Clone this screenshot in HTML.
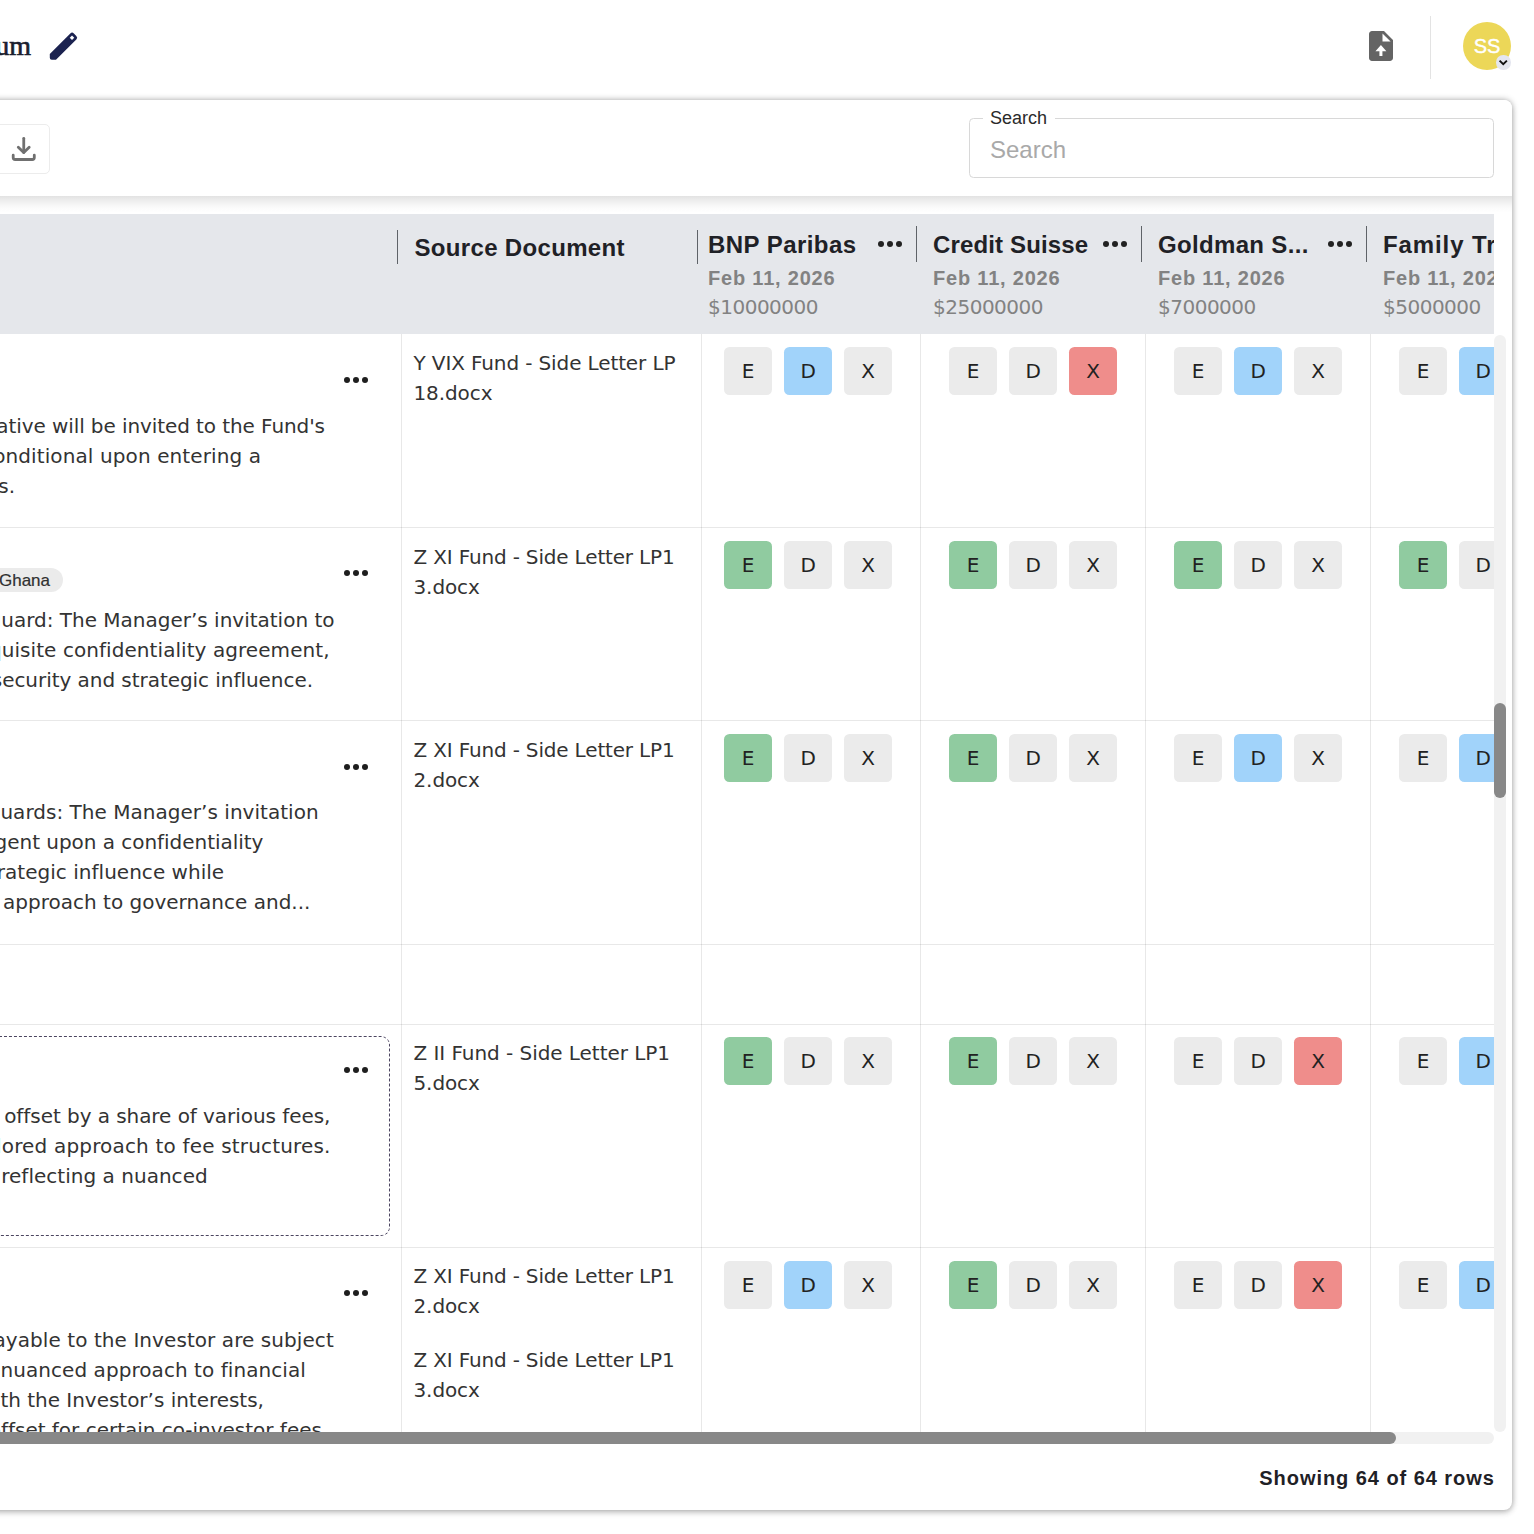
<!DOCTYPE html><html lang="en"><head><meta charset="utf-8"><title>Side Letter Compendium</title><style>
*{box-sizing:border-box;margin:0;padding:0}
html,body{width:1534px;height:1534px;overflow:hidden;background:#fff}
body{position:relative;font-family:"DejaVu Sans", "Liberation Sans", sans-serif;color:#2e2e2e;font-size:20px}
.abs{position:absolute}
.t{position:absolute;white-space:nowrap;line-height:30px;height:30px;letter-spacing:0;color:#333}
.lib{font-family:"Liberation Sans", "DejaVu Sans", sans-serif}
.serif{font-family:"Liberation Serif", "DejaVu Serif", serif}
.r{text-align:right}
#card{position:absolute;left:-40px;top:99.5px;width:1552px;height:1410px;background:#fff;border-radius:8px;box-shadow:0 0 6px rgba(0,0,0,.34),0 3px 6px rgba(0,0,0,.12)}
#toolbar{position:absolute;left:-40px;top:99.5px;width:1552px;height:96.5px;background:#fff;border-radius:8px 8px 0 0}
#tbshadow{position:absolute;left:-40px;top:196px;width:1552px;height:18px;background:linear-gradient(to bottom,rgba(0,0,0,.115),rgba(0,0,0,.075) 4px,rgba(0,0,0,.035) 9px,rgba(0,0,0,.012) 13px,rgba(0,0,0,0) 17px)}
#thead{position:absolute;left:0;top:214px;width:1494px;height:119.5px;background:#e5e7eb;overflow:hidden}
.sep{position:absolute;top:11.6px;width:1.3px;height:36px;background:#5f6368}
.h1{font-family:"Liberation Sans", "DejaVu Sans", sans-serif;position:absolute;white-space:nowrap;font-weight:700;font-size:24px;line-height:30px;color:#1f2126;letter-spacing:.45px}
.h2{font-family:"Liberation Sans", "DejaVu Sans", sans-serif;position:absolute;white-space:nowrap;font-weight:700;font-size:20px;line-height:30px;color:#828282;letter-spacing:.8px}
.h3{position:absolute;white-space:nowrap;font-weight:400;font-size:20px;line-height:30px;color:#828282;letter-spacing:-.5px}
#tbody{position:absolute;left:0;top:333.5px;width:1494px;height:1098.5px;overflow:hidden;background:#fff}
.hl{position:absolute;left:0;width:1494px;height:1px;background:rgba(0,0,0,.09)}
.vl{position:absolute;top:0;width:1px;height:1100px;background:rgba(0,0,0,.09)}
.b{position:absolute;width:48px;height:48px;border-radius:5.5px;background:#ebebeb;text-align:center;line-height:49.2px;font-size:20px;color:#222}
.dots{position:absolute;width:36px;height:36px}
</style></head><body>
<div class="abs serif" style="right:1503px;top:26px;white-space:nowrap;font-weight:400;font-size:28px;line-height:40px;color:#1b1e2e;-webkit-text-stroke:.65px #1b1e2e">Side Letter Compendium</div>
<svg class="abs" style="left:40px;top:20px;width:50px;height:50px" viewBox="40 20 50 50"><path fill="#1b2250" d="M49.8 57.8V54L70.32 33.48Q72.09 31.71 73.86 33.48L76.32 35.94Q78.09 37.71 76.32 39.48L56 59.8H51.8Q49.8 59.8 49.8 57.8Z"/><rect x="70.4" y="36.1" width="3.2" height="3.2" fill="#fff" transform="rotate(45 72 37.7)"/></svg>
<svg class="abs" style="left:1362.5px;top:28px;width:36px;height:36px" viewBox="0 0 24 24"><path fill="#646464" d="M14 2H6c-1.1 0-1.99.9-1.99 2L4 20c0 1.1.89 2 1.99 2H18c1.1 0 2-.9 2-2V8l-6-6z"/><path fill="#fff" d="M13 3.6V9H18.4z"/><path fill="#fff" d="M11.95 11.3L8.3 15.5H10.95V18.7H12.95V15.5H15.6z"/></svg>
<div class="abs" style="left:1430px;top:16px;width:1px;height:63px;background:#e3e3e3"></div>
<div class="abs lib" style="left:1463px;top:22px;width:48px;height:48px;border-radius:50%;background:#ecd758;color:#fff;text-align:center;line-height:48px;font-size:20px;letter-spacing:0;-webkit-text-stroke:.4px #fff">SS</div>
<div class="abs" style="left:1496px;top:55px;width:14.5px;height:14.5px;border-radius:50%;background:#e4e6ef"></div>
<svg class="abs" style="left:1496px;top:55px;width:14.5px;height:14.5px" viewBox="0 0 14.5 14.5"><path d="M3.6 5.6 L7.25 9.2 L10.9 5.6" fill="none" stroke="#111" stroke-width="1.9"/></svg>
<div id="card"></div>
<div id="toolbar"></div>
<div id="tbshadow"></div>
<div class="abs" style="left:-60px;top:123.5px;width:110px;height:50px;border:1px solid #ececec;border-radius:5px;background:#fff"></div>
<svg class="abs" style="left:0;top:120px;width:60px;height:60px" viewBox="0 120 60 60" fill="none" stroke="#707070" stroke-width="2.8" stroke-linecap="round" stroke-linejoin="round"><path d="M23.75 138.3V152.6"/><path d="M18.3 147.2L23.75 152.6L29.2 147.2"/><path d="M13.2 155.2V157.5a2 2 0 0 0 2 2H32.3a2 2 0 0 0 2-2V155.2"/></svg>
<div class="abs" style="left:969px;top:118px;width:525px;height:60px;border:1px solid #d8d8d8;border-radius:4.5px"></div>
<div class="abs" style="left:983px;top:105px;width:72px;height:24px;background:#fff"></div>
<div class="abs lib" style="left:990px;top:106px;font-size:18px;line-height:24px;color:#2a2a2a;letter-spacing:0;white-space:nowrap">Search</div>
<div class="abs lib" style="left:990px;top:132.8px;font-size:24px;line-height:34px;color:#a9a9a9;letter-spacing:0;white-space:nowrap">Search</div>
<div id="thead">
<div class="sep" style="left:396.75px;top:15.8px;height:34px"></div>
<div class="sep" style="left:696.55px;top:15.8px;height:34px"></div>
<div class="sep" style="left:915.85px"></div>
<div class="sep" style="left:1140.85px"></div>
<div class="sep" style="left:1365.85px"></div>
<div class="h1" style="left:414.5px;top:19px;letter-spacing:.33px">Source Document</div>
<div class="h1" style="left:708px;top:15.5px;letter-spacing:0.45px">BNP Paribas</div>
<div class="h2" style="left:708px;top:48.6px">Feb 11, 2026</div>
<div class="h3" style="left:708px;top:77.8px">$10000000</div>
<svg class="dots" style="left:871.9px;top:11.8px" viewBox="0 0 24 24"><circle cx="6" cy="12" r="2" fill="#222"/><circle cx="12" cy="12" r="2" fill="#222"/><circle cx="18" cy="12" r="2" fill="#222"/></svg>
<div class="h1" style="left:933px;top:15.5px;letter-spacing:0.14px">Credit Suisse</div>
<div class="h2" style="left:933px;top:48.6px">Feb 11, 2026</div>
<div class="h3" style="left:933px;top:77.8px">$25000000</div>
<svg class="dots" style="left:1096.9px;top:11.8px" viewBox="0 0 24 24"><circle cx="6" cy="12" r="2" fill="#222"/><circle cx="12" cy="12" r="2" fill="#222"/><circle cx="18" cy="12" r="2" fill="#222"/></svg>
<div class="h1" style="left:1158px;top:15.5px;letter-spacing:0.33px">Goldman S...</div>
<div class="h2" style="left:1158px;top:48.6px">Feb 11, 2026</div>
<div class="h3" style="left:1158px;top:77.8px">$7000000</div>
<svg class="dots" style="left:1321.9px;top:11.8px" viewBox="0 0 24 24"><circle cx="6" cy="12" r="2" fill="#222"/><circle cx="12" cy="12" r="2" fill="#222"/><circle cx="18" cy="12" r="2" fill="#222"/></svg>
<div class="h1" style="left:1383px;top:15.5px;letter-spacing:0.9px">Family Trust</div>
<div class="h2" style="left:1383px;top:48.6px">Feb 11, 2026</div>
<div class="h3" style="left:1383px;top:77.8px">$5000000</div>
</div>
<div id="tbody">
<div class="hl" style="top:193.5px"></div>
<div class="hl" style="top:386.5px"></div>
<div class="hl" style="top:610.5px"></div>
<div class="hl" style="top:690.5px"></div>
<div class="hl" style="top:913.5px"></div>
<div class="vl" style="left:401px"></div>
<div class="vl" style="left:701px"></div>
<div class="vl" style="left:920px"></div>
<div class="vl" style="left:1145px"></div>
<div class="vl" style="left:1370px"></div>
<div class="b" style="left:724.1px;top:13.6px;background:#ebebeb">E</div>
<div class="b" style="left:784.1px;top:13.6px;background:#a1d3fa">D</div>
<div class="b" style="left:844.1px;top:13.6px;background:#ebebeb">X</div>
<div class="b" style="left:949.1px;top:13.6px;background:#ebebeb">E</div>
<div class="b" style="left:1009.1px;top:13.6px;background:#ebebeb">D</div>
<div class="b" style="left:1069.1px;top:13.6px;background:#ef8d8b">X</div>
<div class="b" style="left:1174.1px;top:13.6px;background:#ebebeb">E</div>
<div class="b" style="left:1234.1px;top:13.6px;background:#a1d3fa">D</div>
<div class="b" style="left:1294.1px;top:13.6px;background:#ebebeb">X</div>
<div class="b" style="left:1399.1px;top:13.6px;background:#ebebeb">E</div>
<div class="b" style="left:1459.1px;top:13.6px;background:#a1d3fa">D</div>
<div class="b" style="left:1519.1px;top:13.6px;background:#ebebeb">X</div>
<div class="b" style="left:724.1px;top:207.6px;background:#90cba0">E</div>
<div class="b" style="left:784.1px;top:207.6px;background:#ebebeb">D</div>
<div class="b" style="left:844.1px;top:207.6px;background:#ebebeb">X</div>
<div class="b" style="left:949.1px;top:207.6px;background:#90cba0">E</div>
<div class="b" style="left:1009.1px;top:207.6px;background:#ebebeb">D</div>
<div class="b" style="left:1069.1px;top:207.6px;background:#ebebeb">X</div>
<div class="b" style="left:1174.1px;top:207.6px;background:#90cba0">E</div>
<div class="b" style="left:1234.1px;top:207.6px;background:#ebebeb">D</div>
<div class="b" style="left:1294.1px;top:207.6px;background:#ebebeb">X</div>
<div class="b" style="left:1399.1px;top:207.6px;background:#90cba0">E</div>
<div class="b" style="left:1459.1px;top:207.6px;background:#ebebeb">D</div>
<div class="b" style="left:1519.1px;top:207.6px;background:#ebebeb">X</div>
<div class="b" style="left:724.1px;top:400.6px;background:#90cba0">E</div>
<div class="b" style="left:784.1px;top:400.6px;background:#ebebeb">D</div>
<div class="b" style="left:844.1px;top:400.6px;background:#ebebeb">X</div>
<div class="b" style="left:949.1px;top:400.6px;background:#90cba0">E</div>
<div class="b" style="left:1009.1px;top:400.6px;background:#ebebeb">D</div>
<div class="b" style="left:1069.1px;top:400.6px;background:#ebebeb">X</div>
<div class="b" style="left:1174.1px;top:400.6px;background:#ebebeb">E</div>
<div class="b" style="left:1234.1px;top:400.6px;background:#a1d3fa">D</div>
<div class="b" style="left:1294.1px;top:400.6px;background:#ebebeb">X</div>
<div class="b" style="left:1399.1px;top:400.6px;background:#ebebeb">E</div>
<div class="b" style="left:1459.1px;top:400.6px;background:#a1d3fa">D</div>
<div class="b" style="left:1519.1px;top:400.6px;background:#ebebeb">X</div>
<div class="b" style="left:724.1px;top:703.2px;background:#90cba0">E</div>
<div class="b" style="left:784.1px;top:703.2px;background:#ebebeb">D</div>
<div class="b" style="left:844.1px;top:703.2px;background:#ebebeb">X</div>
<div class="b" style="left:949.1px;top:703.2px;background:#90cba0">E</div>
<div class="b" style="left:1009.1px;top:703.2px;background:#ebebeb">D</div>
<div class="b" style="left:1069.1px;top:703.2px;background:#ebebeb">X</div>
<div class="b" style="left:1174.1px;top:703.2px;background:#ebebeb">E</div>
<div class="b" style="left:1234.1px;top:703.2px;background:#ebebeb">D</div>
<div class="b" style="left:1294.1px;top:703.2px;background:#ef8d8b">X</div>
<div class="b" style="left:1399.1px;top:703.2px;background:#ebebeb">E</div>
<div class="b" style="left:1459.1px;top:703.2px;background:#a1d3fa">D</div>
<div class="b" style="left:1519.1px;top:703.2px;background:#ebebeb">X</div>
<div class="b" style="left:724.1px;top:927.0px;background:#ebebeb">E</div>
<div class="b" style="left:784.1px;top:927.0px;background:#a1d3fa">D</div>
<div class="b" style="left:844.1px;top:927.0px;background:#ebebeb">X</div>
<div class="b" style="left:949.1px;top:927.0px;background:#90cba0">E</div>
<div class="b" style="left:1009.1px;top:927.0px;background:#ebebeb">D</div>
<div class="b" style="left:1069.1px;top:927.0px;background:#ebebeb">X</div>
<div class="b" style="left:1174.1px;top:927.0px;background:#ebebeb">E</div>
<div class="b" style="left:1234.1px;top:927.0px;background:#ebebeb">D</div>
<div class="b" style="left:1294.1px;top:927.0px;background:#ef8d8b">X</div>
<div class="b" style="left:1399.1px;top:927.0px;background:#ebebeb">E</div>
<div class="b" style="left:1459.1px;top:927.0px;background:#a1d3fa">D</div>
<div class="b" style="left:1519.1px;top:927.0px;background:#ebebeb">X</div>
<div class="t" style="left:413.5px;top:14.5px;letter-spacing:-0.12px">Y VIX Fund - Side Letter LP</div>
<div class="t" style="left:413.5px;top:44.5px;letter-spacing:-0.1px">18.docx</div>
<div class="t" style="left:413.5px;top:208.5px;letter-spacing:-0.17px">Z XI Fund - Side Letter LP1</div>
<div class="t" style="left:413.5px;top:238.5px;letter-spacing:-0.1px">3.docx</div>
<div class="t" style="left:413.5px;top:401.5px;letter-spacing:-0.17px">Z XI Fund - Side Letter LP1</div>
<div class="t" style="left:413.5px;top:431.5px;letter-spacing:-0.1px">2.docx</div>
<div class="t" style="left:413.5px;top:704.1px;letter-spacing:-0.05px">Z II Fund - Side Letter LP1</div>
<div class="t" style="left:413.5px;top:734.1px;letter-spacing:-0.1px">5.docx</div>
<div class="t" style="left:413.5px;top:927.9px;letter-spacing:-0.17px">Z XI Fund - Side Letter LP1</div>
<div class="t" style="left:413.5px;top:957.9px;letter-spacing:-0.1px">2.docx</div>
<div class="t" style="left:413.5px;top:1011.9px;letter-spacing:-0.17px">Z XI Fund - Side Letter LP1</div>
<div class="t" style="left:413.5px;top:1041.9px;letter-spacing:-0.1px">3.docx</div>
<svg class="dots" style="left:337.9px;top:28.5px" viewBox="0 0 24 24"><circle cx="6" cy="12" r="2" fill="#1e1e1e"/><circle cx="12" cy="12" r="2" fill="#1e1e1e"/><circle cx="18" cy="12" r="2" fill="#1e1e1e"/></svg>
<svg class="dots" style="left:337.9px;top:221.9px" viewBox="0 0 24 24"><circle cx="6" cy="12" r="2" fill="#1e1e1e"/><circle cx="12" cy="12" r="2" fill="#1e1e1e"/><circle cx="18" cy="12" r="2" fill="#1e1e1e"/></svg>
<svg class="dots" style="left:337.9px;top:415.3px" viewBox="0 0 24 24"><circle cx="6" cy="12" r="2" fill="#1e1e1e"/><circle cx="12" cy="12" r="2" fill="#1e1e1e"/><circle cx="18" cy="12" r="2" fill="#1e1e1e"/></svg>
<svg class="dots" style="left:337.9px;top:718.5px" viewBox="0 0 24 24"><circle cx="6" cy="12" r="2" fill="#1e1e1e"/><circle cx="12" cy="12" r="2" fill="#1e1e1e"/><circle cx="18" cy="12" r="2" fill="#1e1e1e"/></svg>
<svg class="dots" style="left:337.9px;top:941.9px" viewBox="0 0 24 24"><circle cx="6" cy="12" r="2" fill="#1e1e1e"/><circle cx="12" cy="12" r="2" fill="#1e1e1e"/><circle cx="18" cy="12" r="2" fill="#1e1e1e"/></svg>
<div class="t r" style="right:1169.1px;top:77.1px;letter-spacing:-0.089px">The Investor's representative will be invited to the Fund's</div>
<div class="t r" style="right:1232.9px;top:107.1px;letter-spacing:0.106px">advisory committee meetings, conditional upon entering a</div>
<div class="t r" style="right:1479.0px;top:137.1px;letter-spacing:0px">confidentiality agreement with the Managers.</div>
<div class="t r" style="right:1159.5px;top:271.3px;letter-spacing:-0.004px">Confidentiality Safeguard: The Manager’s invitation to</div>
<div class="t r" style="right:1164.4px;top:301.4px;letter-spacing:0.066px">observe is subject to a requisite confidentiality agreement,</div>
<div class="t r" style="right:1181.0px;top:331.5px;letter-spacing:-0.049px">balancing information security and strategic influence.</div>
<div class="t r" style="right:1175.4px;top:463.5px;letter-spacing:0.026px">Observer Rights Safeguards: The Manager’s invitation</div>
<div class="t r" style="right:1230.7px;top:493.5px;letter-spacing:-0.038px">to attend is contingent upon a confidentiality</div>
<div class="t r" style="right:1269.8px;top:523.5px;letter-spacing:0.028px">agreement, ensuring strategic influence while</div>
<div class="t r" style="right:1183.6px;top:553.5px;letter-spacing:0.0px">maintaining a balanced approach to governance and...</div>
<div class="abs" style="left:-40px;top:702.9px;width:429.8px;height:199.4px;border:1px dashed #4b4560;border-radius:9px"></div>
<div class="t r" style="right:1163.7px;top:767.2px;letter-spacing:-0.06px">The Management Fee will be offset by a share of various fees,</div>
<div class="t r" style="right:1163.4px;top:797.2px;letter-spacing:0.174px">demonstrating a tailored approach to fee structures.</div>
<div class="t r" style="right:1286.3px;top:827.2px;letter-spacing:0.025px">Offsets apply pro rata, reflecting a nuanced</div>
<div class="t r" style="right:1160.2px;top:991.3px;letter-spacing:0.072px">Fee Offsets: Management fees payable to the Investor are subject</div>
<div class="t r" style="right:1188.1px;top:1021.3px;letter-spacing:0.065px">to offsets, demonstrating a nuanced approach to financial</div>
<div class="t r" style="right:1230.1px;top:1051.3px;letter-spacing:-0.024px">arrangements that align with the Investor’s interests,</div>
<div class="t r" style="right:1172.1px;top:1081.3px;letter-spacing:-0.013px">including a full offset for certain co-investor fees</div>
<div class="abs" style="left:-60px;top:234.3px;width:122.6px;height:24px;border-radius:12px;background:#ebebeb"></div>
<div class="abs lib" style="right:1444.0px;top:234.3px;font-size:17px;line-height:25.2px;color:#303030;-webkit-text-stroke:.2px #303030;white-space:nowrap">Ghana</div>
</div>
<div class="abs" style="left:1494px;top:334.5px;width:12px;height:1097px;border-radius:6px;background:#f1f1f1"></div>
<div class="abs" style="left:1494px;top:702.8px;width:12px;height:95px;border-radius:6px;background:#888"></div>
<div class="abs" style="left:-20px;top:1432px;width:1514px;height:12px;border-radius:6px;background:#f1f1f1"></div>
<div class="abs" style="left:-20px;top:1432px;width:1415.5px;height:12px;border-radius:6px;background:#888"></div>
<div class="abs lib" style="right:39.2px;top:1462.7px;font-weight:700;font-size:20px;line-height:30px;color:#1f2126;letter-spacing:.95px;white-space:nowrap">Showing 64 of 64 rows</div>
</body></html>
